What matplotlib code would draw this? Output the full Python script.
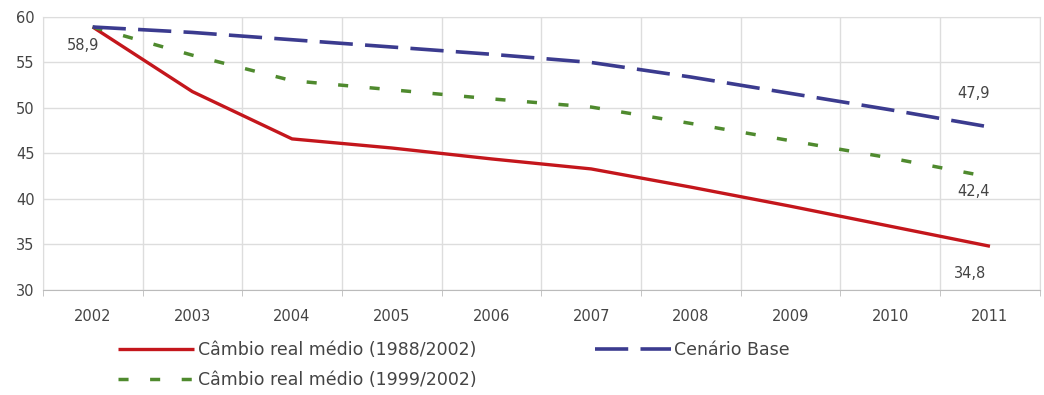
import matplotlib.pyplot as plt
import numpy as np

# values
years = ["2002", "2003", "2004", "2005", "2006", "2007", "2008", "2009", "2010", "2011"]
cambio_1988 = [58.9, 51.8, 46.6, 45.6, 44.4, 43.3, 41.3, 39.2, 37.0, 34.8]
cambio_1999 = [58.9, 55.8, 53.0, 52.0, 51.0, 50.1, 48.3, 46.4, 44.5, 42.4]
cenario_base = [58.9, 58.3, 57.5, 56.7, 55.9, 55.0, 53.4, 51.6, 49.8, 47.9]

x = np.arange(len(years))

fig = plt.figure(figsize=(10.44, 3.95), dpi=100)
ax = fig.add_axes([0.041, 0.266, 0.955, 0.691])

red, = ax.plot(x, cambio_1988, color="#c4161c", lw=2.4, solid_capstyle="butt",
               label="Câmbio real médio (1988/2002)")
green, = ax.plot(x, cambio_1999, color="#4f8a2e", lw=2.5, dashes=(2.9, 6.2),
                 label="Câmbio real médio (1999/2002)")
blue, = ax.plot(x, cenario_base, color="#3b3b8f", lw=2.6, dashes=(9.2, 3.4),
                label="Cenário Base")

ax.set_xlim(-0.5, len(years) - 0.5)
ax.set_ylim(30, 60)
ax.set_yticks(np.arange(30, 61, 5))
ax.set_xticks(x)
ax.set_xticklabels(years)
ax.set_xticks(np.arange(-0.5, len(years), 1), minor=True)
ax.tick_params(axis="x", which="major", length=0, pad=14, labelsize=10.5, labelcolor="#444444")
ax.tick_params(axis="x", which="minor", length=4, color="#bbbbbb", direction="out")
ax.tick_params(axis="y", length=0, pad=6, labelsize=10.5, labelcolor="#444444")
ax.grid(True, axis="y", color="#dddddd", lw=1)
ax.grid(True, axis="x", which="minor", color="#dddddd", lw=1)
for side in ["top", "right", "left"]:
    ax.spines[side].set_color("#dddddd")
ax.spines["bottom"].set_color("#bbbbbb")

# value labels
lab = dict(fontsize=10.5, color="#444444", ha="center", va="center", textcoords="offset points")
ax.annotate("58,9", (x[0], cambio_1988[0]), xytext=(-7, -13), **lab)
ax.annotate("47,9", (x[-1], cenario_base[-1]), xytext=(-12, 24), **lab)
ax.annotate("42,4", (x[-1], cambio_1999[-1]), xytext=(-12, -10), **lab)
ax.annotate("34,8", (x[-1], cambio_1988[-1]), xytext=(-14, -19.5), **lab)

leg = fig.legend(handles=[red, green, blue], ncol=2, loc="upper left",
                 bbox_to_anchor=(0.113, 0.137), frameon=False, fontsize=12.5,
                 handlelength=4.4, handletextpad=0.2, columnspacing=6.8,
                 labelspacing=0.7, borderaxespad=0, borderpad=0)
for t in leg.get_texts():
    t.set_color("#444444")

plt.savefig("out.png", dpi=100)
